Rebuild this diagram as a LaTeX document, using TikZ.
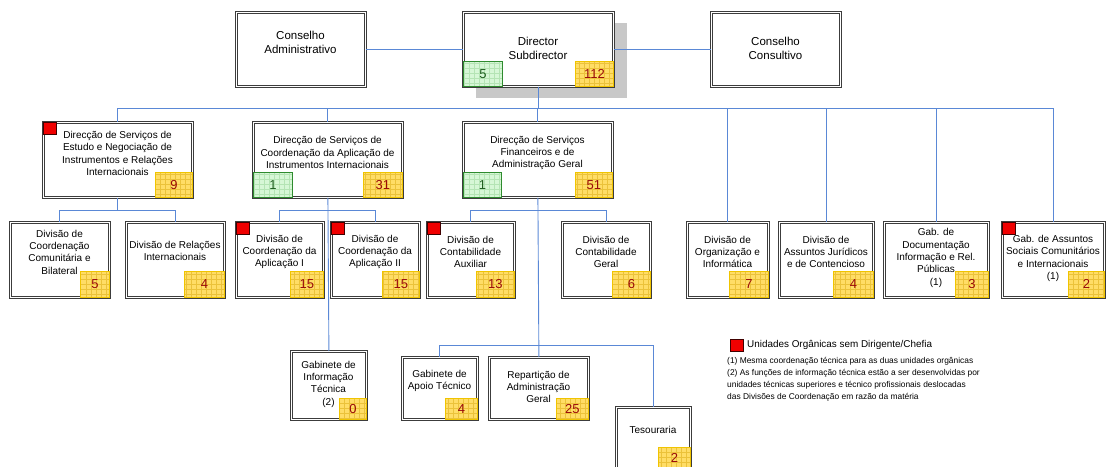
\documentclass[tikz,border=0pt]{standalone}
\usepackage{fontspec}
\setmainfont{Liberation Sans}
\usetikzlibrary{calc}

\definecolor{linkblue}{HTML}{5A88D6}
\definecolor{boxgray}{HTML}{3C3C3C}
\definecolor{shadowgray}{HTML}{C8C8C8}
\definecolor{badgeyellow}{HTML}{FFDD66}
\definecolor{badgeedge}{HTML}{F0C400}
\definecolor{badgegrid}{HTML}{EBC23A}
\definecolor{badgegreen}{HTML}{D6F7D6}
\definecolor{badgegreenedge}{HTML}{2E8B2E}
\definecolor{badgegreengrid}{HTML}{B4E4B4}
\definecolor{numred}{HTML}{9A0A0A}
\definecolor{numgreen}{HTML}{1E5E1E}
\definecolor{flagred}{HTML}{F00000}

\tikzset{
  unit/.style={draw=boxgray, line width=0.8pt, double=white, double distance=1.3pt,
    fill=white, inner sep=0pt, anchor=north west},
  link/.style={draw=linkblue, line width=0.9pt},
  txt/.style={align=center, inner sep=0pt, font=\fontsize{10}{12.3}\selectfont},
  toptxt/.style={align=center, inner sep=0pt, font=\fontsize{11.5}{14}\selectfont},
  ybadge/.style={fill=badgeyellow, draw=badgeedge, line width=0.8pt, inner sep=0pt,
    anchor=south east, minimum height=25pt, text=numred,
    font=\fontsize{13}{13}\selectfont,
    path picture={\draw[badgegrid, line width=0.35pt]
      ([xshift=1pt]path picture bounding box.south west)
      grid[xstep=5pt, ystep=5pt] (path picture bounding box.north east);}},
  gbadge/.style={fill=badgegreen, draw=badgegreenedge, line width=0.8pt, inner sep=0pt,
    anchor=south west, minimum height=25pt, text=numgreen,
    font=\fontsize{13}{13}\selectfont,
    path picture={\draw[badgegreengrid, line width=0.35pt]
      (path picture bounding box.south west)
      grid[xstep=5pt, ystep=5pt] (path picture bounding box.north east);}},
  redflag/.style={fill=flagred, draw=black!75!red, line width=0.6pt, inner sep=0pt,
    anchor=north west, minimum width=13pt, minimum height=12pt},
}

% \orgbox{name}{x1}{y1}{x2}{y2}: a double-framed unit box
\newcommand\orgbox[5]{\node[unit, minimum width={#4-#2}, minimum height={#5-#3}] (#1) at (#2,#3) {};}

\begin{document}
\begin{tikzpicture}[x=1pt, y=-1pt]
\useasboundingbox (0,0) rectangle (1106,466);
\clip (0,0) rectangle (1106,466);

% shadow behind the direction box
\fill[shadowgray] (476,23) rectangle (627,98);

% ---- units ----
\orgbox{ca}{236}{12}{365}{86}
\orgbox{dir}{463}{12}{613}{86}
\orgbox{cc}{711}{12}{840}{86}

\orgbox{dA}{43}{122}{192}{197}
\orgbox{dB}{253}{122}{402}{197}
\orgbox{dC}{463}{122}{612}{197}

\orgbox{d1}{10}{222}{109}{297}
\orgbox{d2}{126}{222}{224}{297}
\orgbox{d3}{236}{222}{323}{297}
\orgbox{d4}{331}{222}{419}{297}
\orgbox{d5}{427}{222}{514}{297}
\orgbox{d6}{562}{222}{650}{297}
\orgbox{e1}{687}{222}{768}{297}
\orgbox{e2}{779}{222}{873}{297}
\orgbox{e3}{884}{222}{988}{297}
\orgbox{e4}{1002}{222}{1104}{297}

\orgbox{f1}{291}{351}{366}{419}
\orgbox{f2}{402}{357}{477}{419}
\orgbox{f3}{489}{357}{588}{419}
\orgbox{f4}{616}{407}{690}{468}

% ---- connectors ----
\coordinate (bus) at (538,108);
\coordinate (split) at (0,210);
\coordinate (splitlow) at (0,345);

\draw[link] (ca.east) -- (dir.west);
\draw[link] (dir.east) -- (cc.west);
\foreach \n in {dA,dB,dC,e1,e2,e3,e4}
  \draw[link] (dir.south) -- (dir.south |- bus) -| (\n.north);

\draw[link] (dA.south) -- (dA.south |- split) -| (d1.north);
\draw[link] (dA.south |- split) -| (d2.north);

\draw[link] (dB.south) -- (f1.north);
\draw[link] (dB.south |- split) -| (d3.north);
\draw[link] (dB.south |- split) -| (d4.north);

\draw[link] (dC.south) -- (f3.north);
\draw[link] (dC.south |- split) -| (d5.north);
\draw[link] (dC.south |- split) -| (d6.north);
\draw[link] (dC.south |- splitlow) -| (f2.north);
\draw[link] (dC.south |- splitlow) -| (f4.north);

% ---- texts ----
\node[toptxt] (cat) at (300.5,42) {Conselho\\Administrativo};
\node[toptxt] (dirt) at (538,48) {Director\\Subdirector};
\node[toptxt] (cct) at (775.5,48) {Conselho\\Consultivo};

\node[txt] (dAt) at (117.5,153.5) {Direcção de Serviços de\\Estudo e Negociação de\\Instrumentos e Relações\\Internacionais};
\node[txt] (dBt) at (327.5,152.5) {Direcção de Serviços de\\Coordenação da Aplicação de\\Instrumentos Internacionais};
\node[txt] (dCt) at (537.5,153) {Direcção de Serviços\\Financeiros e de\\Administração Geral};

\node[txt] (d1t) at (59.5,252) {Divisão de\\Coordenação\\Comunitária e\\Bilateral};
\node[txt] (d2t) at (175,251) {Divisão de Relações\\Internacionais};
\node[txt] (d3t) at (279.5,252) {Divisão de\\Coordenação da\\Aplicação I};
\node[txt] (d4t) at (375,252) {Divisão de\\Coordenação da\\Aplicação II};
\node[txt] (d5t) at (470.5,252) {Divisão de\\Contabilidade\\Auxiliar};
\node[txt] (d6t) at (606,252) {Divisão de\\Contabilidade\\Geral};
\node[txt] (e1t) at (727.5,252) {Divisão de\\Organização e\\Informática};
\node[txt] (e2t) at (826,252) {Divisão de\\Assuntos Jurídicos\\e de Contencioso};
\node[txt] (e3t) at (936,258) {Gab. de\\Documentação\\Informação e Rel.\\Públicas\\(1)};
\node[txt] (e4t) at (1053,258.5) {Gab. de Assuntos\\Sociais Comunitários\\e Internacionais\\(1)};

\node[txt] (f1t) at (328.5,384) {Gabinete de\\Informação\\Técnica\\(2)};
\node[txt] (f2t) at (439.5,381) {Gabinete de\\Apoio Técnico};
\node[txt] (f3t) at (538.5,387) {Repartição de\\Administração\\Geral};
\node[txt] (f4t) at (653,430) {Tesouraria};

% ---- staff badges ----
\node[gbadge, minimum width=39pt] (dirs) at (dir.south west) {5};
\node[ybadge, minimum width=38pt] (dirn) at (dir.south east) {112};
\node[ybadge, minimum width=37pt] (dAn) at (dA.south east) {9};
\node[gbadge, minimum width=39pt] (dBs) at (dB.south west) {1};
\node[ybadge, minimum width=39pt] (dBn) at (dB.south east) {31};
\node[gbadge, minimum width=38pt] (dCs) at (dC.south west) {1};
\node[ybadge, minimum width=37pt] (dCn) at (dC.south east) {51};

\node[ybadge, minimum width=29pt, minimum height=26pt] (d1n) at (d1.south east) {5};
\node[ybadge, minimum width=40pt, minimum height=26pt] (d2n) at (d2.south east) {4};
\node[ybadge, minimum width=33pt, minimum height=26pt] (d3n) at (d3.south east) {15};
\node[ybadge, minimum width=37pt, minimum height=26pt] (d4n) at (d4.south east) {15};
\node[ybadge, minimum width=38pt, minimum height=26pt] (d5n) at (d5.south east) {13};
\node[ybadge, minimum width=38pt, minimum height=26pt] (d6n) at (d6.south east) {6};
\node[ybadge, minimum width=39pt, minimum height=26pt] (e1n) at (e1.south east) {7};
\node[ybadge, minimum width=40pt, minimum height=26pt] (e2n) at (e2.south east) {4};
\node[ybadge, minimum width=33pt, minimum height=26pt] (e3n) at (e3.south east) {3};
\node[ybadge, minimum width=36pt, minimum height=26pt] (e4n) at (e4.south east) {2};

\node[ybadge, minimum width=27pt, minimum height=21pt] (f1n) at (f1.south east) {0};
\node[ybadge, minimum width=32pt, minimum height=21pt] (f2n) at (f2.south east) {4};
\node[ybadge, minimum width=32pt, minimum height=21pt] (f3n) at (f3.south east) {25};
\node[ybadge, minimum width=32pt, minimum height=21pt] (f4n) at (f4.south east) {2};

% ---- units without a head ----
\node[redflag] (dAf) at (dA.north west) {};
\node[redflag] (d3f) at (d3.north west) {};
\node[redflag] (d4f) at (d4.north west) {};
\node[redflag] (d5f) at (d5.north west) {};
\node[redflag] (e4f) at (e4.north west) {};

% ---- key and notes ----
\node[redflag] (key) at (730,339) {};
\node[anchor=west, inner sep=0pt, font=\fontsize{9.9}{11}\selectfont] (keyt) at (747,344.5) {Unidades Orgânicas sem Dirigente/Chefia};
\node[anchor=north west, align=left, inner sep=0pt, font=\fontsize{8.4}{12}\selectfont] (notes) at (727,357.5)
  {(1) Mesma coordenação técnica para as duas unidades orgânicas\\
   (2) As funções de informação técnica estão a ser desenvolvidas por\\
   unidades técnicas superiores e técnico profissionais deslocadas\\
   das Divisões de Coordenação em razão da matéria};
\end{tikzpicture}
\end{document}
